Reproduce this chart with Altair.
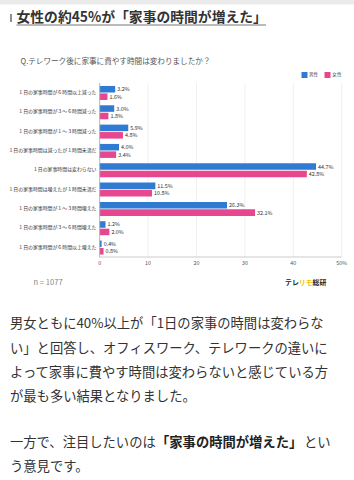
import altair as alt
import pandas as pd

FONT = "Noto Sans CJK JP"

# ---- data ----
categories = [
    "１日の家事時間が６時間以上減った",
    "１日の家事時間が３～６時間減った",
    "１日の家事時間が１～３時間減った",
    "１日の家事時間は減ったが１時間未満だ",
    "１日の家事時間は変わらない",
    "１日の家事時間は増えたが１時間未満だ",
    "１日の家事時間が１～３時間増えた",
    "１日の家事時間が３～６時間増えた",
    "１日の家事時間が６時間以上増えた",
]
male = [3.2, 3.0, 5.9, 4.0, 44.7, 11.5, 26.3, 1.2, 0.4]
female = [1.6, 1.8, 4.8, 3.4, 42.8, 10.8, 32.1, 2.0, 0.8]
series = ["男性", "女性"]
series_colors = ["#2f7bd3", "#e6478f"]
tick_values = [0, 10, 20, 30, 40, 50]
tick_labels = ["0", "10", "20", "30", "40", "50%"]

heading = "女性の約45%が「家事の時間が増えた」"
question = "Q.テレワーク後に家事に費やす時間は変わりましたか？"
sample_note = "n = 1077"
brand_parts = ["テレ", "リモ", "総研"]
body_lines = [
    "男女ともに40%以上が「1日の家事の時間は変わらな",
    "い」と回答し、オフィスワーク、テレワークの違いに",
    "よって家事に費やす時間は変わらないと感じている方",
    "が最も多い結果となりました。",
]
body2_parts = ["一方で、注目したいのは", "「家事の時間が増えた」", "とい"]
body3 = "う意見です。"

# ---- tables ----
rows = []
for i, c in enumerate(categories):
    rows.append({"category": c, "gender": series[0], "value": male[i], "label": f"{male[i]:.1f}%"})
    rows.append({"category": c, "gender": series[1], "value": female[i], "label": f"{female[i]:.1f}%"})
df = pd.DataFrame(rows)
cat_df = pd.DataFrame({"category": categories})
tick_df = pd.DataFrame({"tick": tick_values, "label": tick_labels})
one = pd.DataFrame({"a": [0]})

xscale = alt.Scale(domain=[0, 50], range=[99.7, 341.7], nice=False, zero=False)
yscale = alt.Scale(domain=categories, range=[83.3, 257.2], paddingInner=0.275, paddingOuter=0.1375)
X = lambda f: alt.X(f, scale=xscale, axis=None)
Y = alt.Y("category:N", scale=yscale, axis=None)
YO = alt.YOffset("gender:N", scale=alt.Scale(domain=series, paddingInner=0.12))


def txt(s, x, y, size, color="#333333", weight="normal", align="left"):
    return alt.Chart(pd.DataFrame({"t": [s]})).mark_text(
        align=align, baseline="middle", fontSize=size, fontWeight=weight,
        color=color, font=FONT
    ).encode(x=alt.value(x), y=alt.value(y), text="t:N")


def rect(x, x2, y, y2, color):
    return alt.Chart(one).mark_rect(color=color).encode(
        x=alt.value(x), x2=alt.value(x2), y=alt.value(y), y2=alt.value(y2))


layers = []
# top gray band
layers.append(rect(0, 354, 0, 4.5, "#ebebeb"))
# heading
layers.append(alt.Chart(one).mark_rule(color="#555555", strokeWidth=1.3).encode(
    x=alt.value(11), y=alt.value(14), y2=alt.value(22)))
layers.append(txt(heading, 16.5, 17.8, 13.8, "#333333", "bold"))
layers.append(alt.Chart(one).mark_rule(color="#777777", strokeWidth=1.2).encode(
    x=alt.value(16.5), x2=alt.value(266), y=alt.value(25)))
# question
layers.append(txt(question, 20.5, 61.8, 7.6, "#555555"))
# legend
layers.append(rect(301.5, 307.5, 72, 78, series_colors[0]))
layers.append(txt(series[0], 309, 75, 4.6, "#444444"))
layers.append(rect(324.5, 330.5, 72, 78, series_colors[1]))
layers.append(txt(series[1], 332.3, 75, 4.6, "#444444"))

# gridlines
layers.append(alt.Chart(tick_df[tick_df.tick > 0]).mark_rule(color="#ececec", strokeWidth=0.8).encode(
    x=X("tick:Q"), y=alt.value(83), y2=alt.value(257)))
# bars
layers.append(alt.Chart(df).mark_bar().encode(
    x=X("value:Q"), y=Y, yOffset=YO,
    color=alt.Color("gender:N", scale=alt.Scale(domain=series, range=series_colors), legend=None)))
# value labels
layers.append(alt.Chart(df).mark_text(align="left", baseline="middle", dx=2, fontSize=5.4,
                                      color="#333333", font=FONT).encode(
    x=X("value:Q"), y=Y, yOffset=YO, text="label:N"))
# category labels
layers.append(alt.Chart(cat_df).mark_text(align="right", baseline="middle", fontSize=4.9,
                                          color="#333333", font=FONT).encode(
    x=alt.value(96.5), y=Y, text="category:N"))
# axes
layers.append(alt.Chart(tick_df[tick_df.tick == 0]).mark_rule(color="#aaaaaa", strokeWidth=0.9).encode(
    x=X("tick:Q"), y=alt.value(83), y2=alt.value(257.5)))
layers.append(alt.Chart(pd.DataFrame({"a": [tick_values[0]], "b": [tick_values[-1]]})).mark_rule(
    color="#cccccc", strokeWidth=1.2).encode(x=X("a:Q"), x2="b:Q", y=alt.value(257)))
layers.append(alt.Chart(tick_df).mark_text(baseline="middle", fontSize=5.4, color="#555555",
                                           font=FONT).encode(
    x=X("tick:Q"), y=alt.value(263), text="label:N"))

# footer
layers.append(txt(sample_note, 33.5, 283.3, 7.6, "#888888"))
layers.append(txt(brand_parts[0], 285, 282.5, 6.9, "#222222", "bold"))
layers.append(txt(brand_parts[1], 298.8, 282.5, 6.9, "#f2c200", "bold"))
layers.append(txt(brand_parts[2], 312.6, 282.5, 6.9, "#222222", "bold"))

# body text
body_y = [324, 348.5, 372.5, 396.5]
for line, yy in zip(body_lines, body_y):
    layers.append(txt(line, 10, yy, 13.3, "#333333"))
layers.append(txt(body2_parts[0], 10, 443, 13.3, "#333333"))
layers.append(txt(body2_parts[1], 156, 443, 13.3, "#222222", "bold"))
layers.append(txt(body2_parts[2], 304, 443, 13.3, "#333333"))
layers.append(txt(body3, 10, 466.5, 13.3, "#333333"))

chart = alt.layer(*layers).properties(
    width=354, height=480, padding=0, background="white",
    autosize=alt.AutoSizeParams(type="none"),
).configure_view(stroke=None)

chart.save("out.html", embed_options={"renderer": "svg", "actions": False})
